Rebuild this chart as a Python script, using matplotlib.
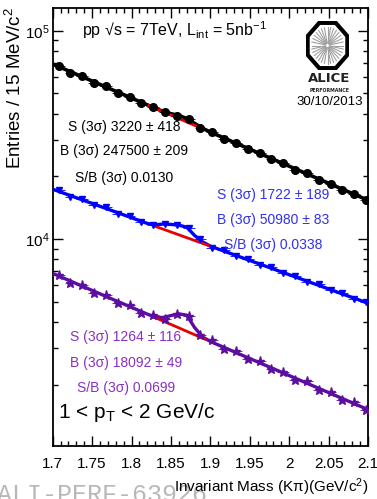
import numpy as np
import matplotlib
matplotlib.use("Agg")
import matplotlib.pyplot as plt
from matplotlib.patches import RegularPolygon
from matplotlib.ticker import MultipleLocator, LogLocator, NullFormatter, FuncFormatter

plt.rcParams["font.family"] = ["Liberation Sans", "DejaVu Sans"]
plt.rcParams["mathtext.fontset"] = "custom"
plt.rcParams["mathtext.rm"] = "Liberation Sans"
plt.rcParams["mathtext.it"] = "Liberation Sans:italic"
plt.rcParams["mathtext.bf"] = "Liberation Sans:bold"

# 15 MeV bin centres
mass = [1.7075, 1.7225, 1.7375, 1.7525, 1.7675, 1.7825, 1.7975, 1.8125, 1.8275,
        1.8425, 1.8575, 1.8725, 1.8875, 1.9025, 1.9175, 1.9325, 1.9475, 1.9625,
        1.9775, 1.9925, 2.0075, 2.0225, 2.0375, 2.0525, 2.0675, 2.0825, 2.0975]

# entries per bin for the three samples
counts_black = [67600, 63000, 60500, 56300, 54100, 50300, 48300, 44900, 43000,
                40900, 39100, 37700, 34200, 32500, 30200, 29000, 27000, 25900,
                24100, 23100, 21500, 20700, 19200, 18400, 17200, 16450, 15400]
counts_blue = [17100, 15900, 15600, 14500, 14200, 13200, 12900, 12050, 11700,
               11800, 11700, 11300, 9950, 9100, 8850, 8250, 8050, 7520,
               7330, 6850, 6670, 6240, 6070, 5680, 5520, 5170, 5010]
counts_purple = [6720, 6180, 6030, 5520, 5390, 4930, 4820, 4400, 4300,
                 4150, 4380, 4280, 3450, 3260, 2960, 2910, 2640, 2590,
                 2370, 2310, 2110, 2070, 1890, 1840, 1690, 1645, 1510]

# fit curves (signal + background)
fit_mass = [1.70, 1.74, 1.78, 1.82, 1.83, 1.84, 1.85, 1.86, 1.87, 1.88, 1.89,
            1.90, 1.94, 1.98, 2.02, 2.06, 2.10]
fit_black = [69180, 59530, 51200, 44050, 42440, 40980, 39950, 39190, 37890,
             35890, 34020, 32610, 28030, 24110, 20740, 17840, 15350]
fit_blue = [17340, 15290, 13480, 11880, 11700, 11800, 11750, 11650, 11400,
            10400, 9700, 9238, 8143, 7178, 6328, 5579, 4920]
fit_purple = [6839, 5884, 5061, 4360, 4215, 4200, 4290, 4370, 4310,
              3760, 3390, 3221, 2771, 2384, 2050, 1764, 1517]

# background under the peak
bkg_mass_black = [1.822, 1.888]
bkg_black = [43710, 34090]
bkg_mass_blue = [1.830, 1.900]
bkg_blue = [11510, 9238]
bkg_mass_purple = [1.827, 1.893]
bkg_purple = [4241, 3307]

x_ticks = [1.7, 1.75, 1.8, 1.85, 1.9, 1.95, 2.0, 2.05, 2.1]

BLACK = "#000000"
BLUE = "#0000ff"
BLUE_TXT = "#3030f0"
PURPLE = "#5c0ea0"
PURPLE_TXT = "#8a30c0"
RED = "#e80000"

W, H = 377, 499


def fx(px):
    return px / W


def fy(py):
    return 1 - py / H


fig = plt.figure(figsize=(3.77, 4.99), dpi=100)
ax = fig.add_axes([fx(52.7), fy(445.7), (368 - 52.7) / W, (445.7 - 8.3) / H])

series = [
    (counts_black, fit_black, bkg_mass_black, bkg_black, BLACK, "o", 5.5, 2.6),
    (counts_blue, fit_blue, bkg_mass_blue, bkg_blue, BLUE, "v", 5, 2.4),
    (counts_purple, fit_purple, bkg_mass_purple, bkg_purple, PURPLE, "*", 6.5, 2.4),
]
for counts, fit, bm, bkg, col, mk, ms, lw in series:
    ax.plot(fit_mass, fit, color=col, lw=lw, zorder=3)
    ax.plot(bm, bkg, color=RED, lw=2.0, zorder=4)
    ax.errorbar(mass, counts, xerr=0.0075, yerr=np.sqrt(counts), fmt=mk,
                color=col, ms=ms, elinewidth=0.6, capsize=0, zorder=5)

ax.set_yscale("log")
ax.set_xlim(1.7, 2.1)
ax.set_ylim(1018, 1.281e5)

ax.set_xticks(x_ticks)
ax.xaxis.set_major_formatter(FuncFormatter(lambda v, p: f"{v:g}"))
ax.xaxis.set_minor_locator(MultipleLocator(0.01))
ax.yaxis.set_major_locator(LogLocator(base=10))
ax.yaxis.set_minor_locator(LogLocator(base=10, subs=np.arange(2, 10)))
ax.yaxis.set_minor_formatter(NullFormatter())
ax.yaxis.set_major_formatter(
    FuncFormatter(lambda v, p: r"$10^{%d}$" % round(np.log10(v))))

ax.tick_params(which="both", direction="in", top=True, right=True,
               labelsize=11, width=1.0)
ax.tick_params(axis="x", which="major", length=7.5, pad=8)
ax.tick_params(axis="x", which="minor", length=3.8)
ax.tick_params(axis="y", which="major", length=7.5, pad=2)
ax.tick_params(axis="y", which="minor", length=3.8)
for s in ax.spines.values():
    s.set_linewidth(1.3)

# annotations
fig.text(fx(82), fy(30), "pp √s = 7TeV, L$_{\\rm int}$ = 5nb$^{-1}$",
         fontsize=11.5, va="center", ha="left")

for txt, py in [("S (3σ) 3220 ± 418", 127), ("B (3σ) 247500 ± 209", 151),
                ("S/B (3σ) 0.0130", 178)]:
    fig.text(fx(124), fy(py), txt, color=BLACK, fontsize=10, ha="center", va="center")
for txt, py in [("S (3σ) 1722 ± 189", 195), ("B (3σ) 50980 ± 83", 220),
                ("S/B (3σ) 0.0338", 245)]:
    fig.text(fx(273), fy(py), txt, color=BLUE_TXT, fontsize=10, ha="center", va="center")
for txt, py in [("S (3σ) 1264 ± 116", 337), ("B (3σ) 18092 ± 49", 363),
                ("S/B (3σ) 0.0699", 388)]:
    fig.text(fx(126), fy(py), txt, color=PURPLE_TXT, fontsize=10, ha="center", va="center")

fig.text(fx(58), fy(413), "1 < p$_{\\rm T}$ < 2 GeV/c", fontsize=15,
         ha="left", va="center")

# watermark sits under the axis title
fig.text(fx(-3), fy(501.5), "ALI-PERF-63926", family="Liberation Mono",
         fontsize=18, color="#b8b8b8", ha="left", va="baseline", zorder=0)
fig.text(fx(368), fy(487), "Invariant Mass (Kπ)(GeV/c$^{2}$)", fontsize=11,
         ha="right", va="center", zorder=2)
fig.text(fx(15), fy(7), "Entries / 15 MeV/c$^{2}$", fontsize=13.5,
         rotation=90, ha="center", va="top")

# ALICE performance logo
logo = fig.add_axes([fx(306), fy(70), (349 - 306) / W, (70 - 21) / H])
logo.set_xlim(-1, 1)
logo.set_ylim(-1, 1)
logo.axis("off")
logo.add_patch(RegularPolygon((0, 0), 8, radius=1.0, orientation=np.pi / 8,
                              facecolor="white", edgecolor="black", lw=3))
for a in np.linspace(0, 2 * np.pi, 32, endpoint=False):
    logo.plot([0.1 * np.cos(a), 0.74 * np.cos(a)],
              [0.1 * np.sin(a), 0.74 * np.sin(a)], color="#a0a0a0", lw=0.8)

fig.text(fx(329), fy(78.5), "ALICE", family="DejaVu Sans", weight="bold",
         fontsize=9.5, ha="center", va="center", color="#222222")
fig.text(fx(330), fy(91), "PERFORMANCE", family="DejaVu Sans", weight="bold",
         fontsize=3.4, ha="center", va="center", color="#222222")
fig.text(fx(330), fy(102), "30/10/2013", fontsize=9.5, ha="center", va="center")

fig.savefig("out.png", dpi=100)
